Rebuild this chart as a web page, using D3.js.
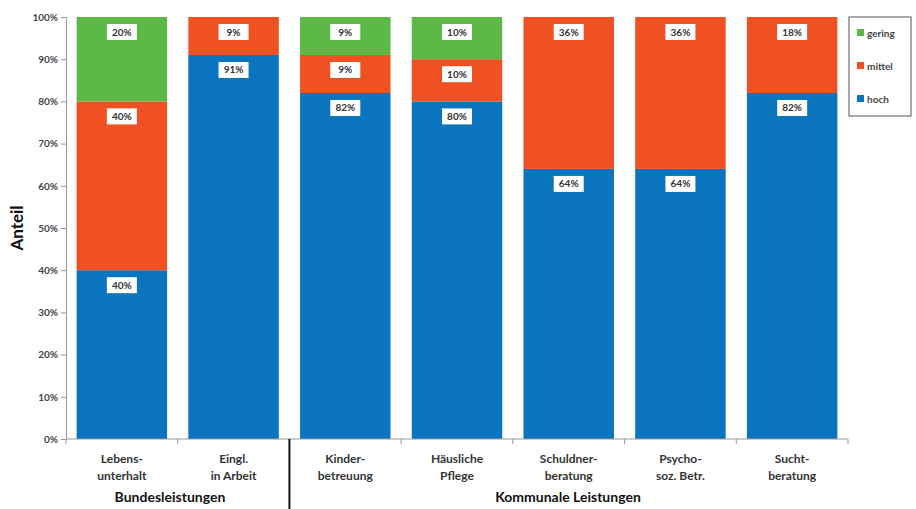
<!DOCTYPE html>
<html>
<head>
<meta charset="utf-8">
<script src="https://cdn.jsdelivr.net/npm/d3@7"></script>
<style>
  body { margin: 0; background: #fff; }
  text { font-family: Lato, "Open Sans", sans-serif; }
</style>
</head>
<body>
<svg id="chart" width="916" height="509"></svg>
<script>
const categories = [
  ["Lebens-", "unterhalt"],
  ["Eingl.", "in Arbeit"],
  ["Kinder-", "betreuung"],
  ["Häusliche", "Pflege"],
  ["Schuldner-", "beratung"],
  ["Psycho-", "soz. Betr."],
  ["Sucht-", "beratung"]
];
const hoch = [40, 91, 82, 80, 64, 64, 82];
const mittel = [40, 9, 9, 10, 36, 36, 18];
const gering = [20, 0, 9, 10, 0, 0, 0];
const seriesNames = ["hoch", "mittel", "gering"];
const colors = { hoch: "#0a74bf", mittel: "#ef5123", gering: "#5cb947" };
const yTicks = [0, 10, 20, 30, 40, 50, 60, 70, 80, 90, 100];

const svg = d3.select("#chart");
const x0 = 66, x1 = 848, yTop = 17, yBot = 439;

const rows = categories.map((c, i) => ({
  key: i, hoch: hoch[i], mittel: mittel[i], gering: gering[i]
}));

const x = d3.scaleBand().domain(d3.range(categories.length)).range([x0, x1]).paddingInner(0.19).paddingOuter(0.095);
const y = d3.scaleLinear().domain([0, 100]).range([yBot, yTop]);

const stack = d3.stack().keys(seriesNames);
const layers = stack(rows);

// y axis
const yAxis = svg.append("g")
  .attr("transform", `translate(${x0},0)`)
  .call(d3.axisLeft(y).tickValues(yTicks).tickSize(5).tickFormat((d) => d + "%"));
yAxis.selectAll("text").attr("font-size", 10).attr("font-weight", "bold").attr("fill", "#444");
yAxis.selectAll("line").attr("stroke", "#999");
yAxis.select(".domain").attr("stroke", "#999");

// bars
const g = svg.append("g");
layers.forEach((layer) => {
  g.selectAll(".bar-" + layer.key)
    .data(layer.filter((d) => d[1] - d[0] > 0))
    .enter()
    .append("rect")
    .attr("x", (d) => x(d.data.key))
    .attr("y", (d) => y(d[1]))
    .attr("width", x.bandwidth())
    .attr("height", (d) => y(d[0]) - y(d[1]))
    .attr("fill", colors[layer.key]);
});

// value labels
layers.forEach((layer) => {
  layer.filter((d) => d[1] - d[0] > 0).forEach((d) => {
    const cx = x(d.data.key) + x.bandwidth() / 2;
    const cy = y(d[1]) + 15;
    const lbl = g.append("g").attr("transform", `translate(${cx},${cy})`);
    lbl.append("rect").attr("x", -15).attr("y", -8).attr("width", 30).attr("height", 16).attr("fill", "#fff");
    lbl.append("text")
      .attr("text-anchor", "middle")
      .attr("dy", "0.35em")
      .attr("font-size", 10)
      .attr("font-weight", "bold")
      .attr("fill", "#333")
      .text(d[1] - d[0] + "%");
  });
});

// x axis
const xa = svg.append("g").attr("transform", `translate(0,${yBot})`);
xa.append("line").attr("x1", x0).attr("x2", x1).attr("stroke", "#999");
const bounds = d3.range(categories.length + 1).map((i) => x0 + i * x.step() - (i === 0 ? 0 : 0));
xa.selectAll(".tick")
  .data(d3.range(categories.length + 1))
  .enter()
  .append("line")
  .attr("x1", (i) => x0 + (x1 - x0) * i / categories.length)
  .attr("x2", (i) => x0 + (x1 - x0) * i / categories.length)
  .attr("y1", 0)
  .attr("y2", 5)
  .attr("stroke", "#999");

categories.forEach((lines, i) => {
  const t = svg.append("text")
    .attr("x", x(i) + x.bandwidth() / 2)
    .attr("y", 463)
    .attr("text-anchor", "middle")
    .attr("font-size", 12)
    .attr("font-weight", "bold")
    .attr("fill", "#333");
  lines.forEach((l, j) => {
    t.append("tspan").attr("x", x(i) + x.bandwidth() / 2).attr("dy", j === 0 ? 0 : 17).text(l);
  });
});

// group divider
const divX = x0 + (x1 - x0) * 2 / categories.length;
svg.append("line").attr("x1", divX).attr("x2", divX).attr("y1", yBot).attr("y2", 509)
  .attr("stroke", "#111").attr("stroke-width", 2);

svg.append("text").attr("x", 170).attr("y", 502).attr("text-anchor", "middle")
  .attr("font-size", 14).attr("font-weight", "bold").attr("fill", "#111").text("Bundesleistungen");
svg.append("text").attr("x", 568).attr("y", 502).attr("text-anchor", "middle")
  .attr("font-size", 14).attr("font-weight", "bold").attr("fill", "#111").text("Kommunale Leistungen");

// y label
svg.append("text")
  .attr("transform", "translate(23,228) rotate(-90)")
  .attr("text-anchor", "middle")
  .attr("font-size", 17)
  .attr("font-weight", "bold")
  .attr("fill", "#111")
  .text("Anteil");

// legend
const lg = svg.append("g").attr("transform", "translate(849,17)");
lg.append("rect").attr("width", 62).attr("height", 99).attr("fill", "#fff").attr("stroke", "#555");
["gering", "mittel", "hoch"].forEach((k, i) => {
  const item = lg.append("g").attr("transform", `translate(8,${16 + i * 33})`);
  item.append("rect").attr("x", 0).attr("y", -4).attr("width", 7).attr("height", 7).attr("fill", colors[k]);
  item.append("text").attr("x", 10).attr("dy", "0.35em").attr("font-size", 10).attr("font-weight", "bold").attr("fill", "#444").text(k);
});
</script>
</body>
</html>
